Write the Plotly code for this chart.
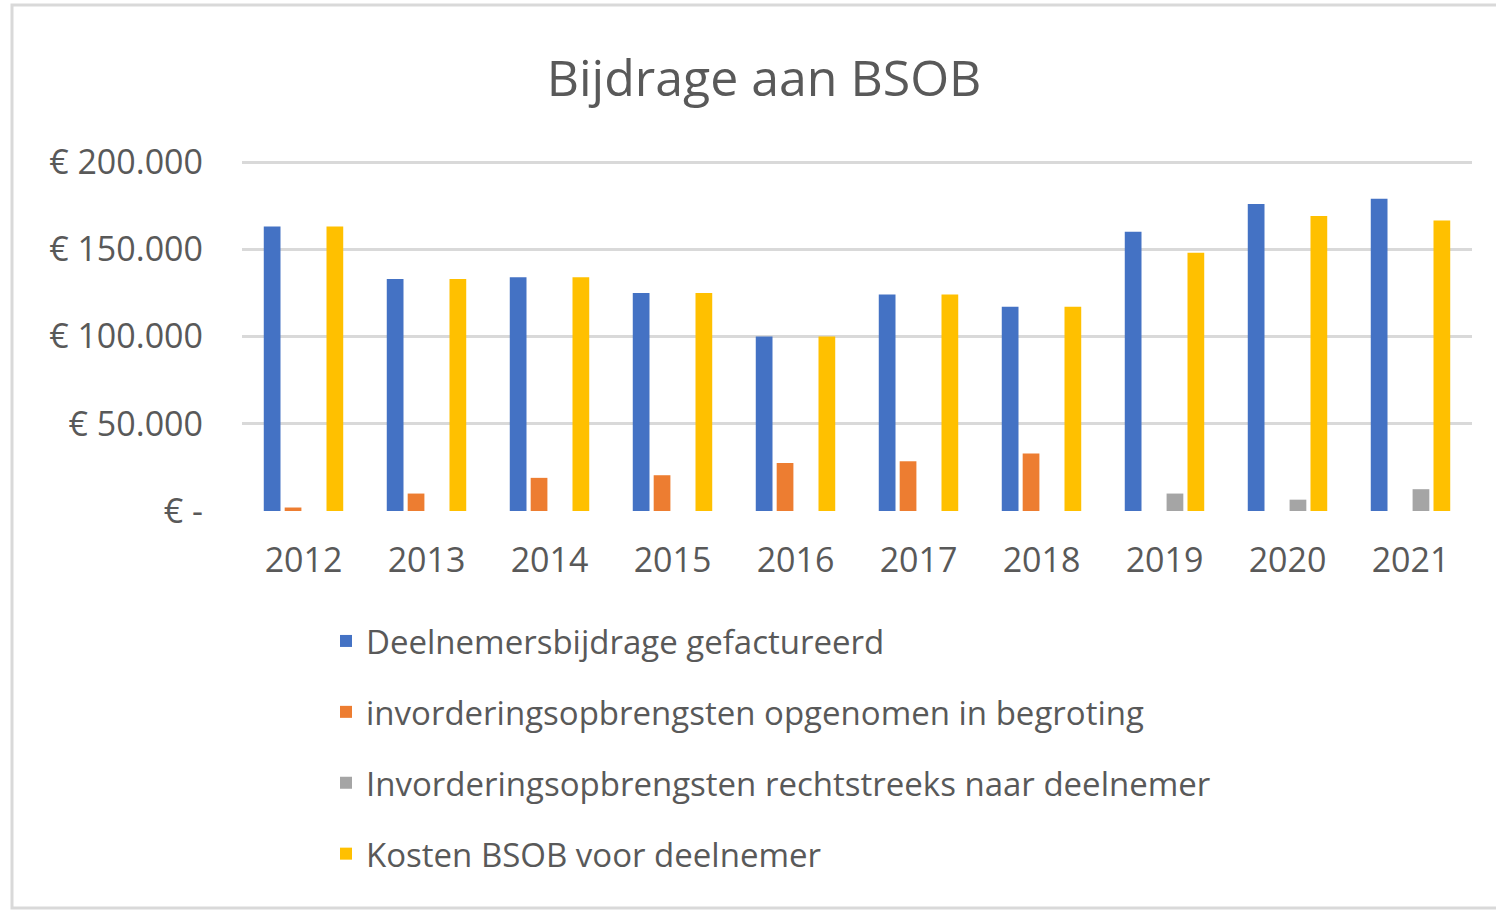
import plotly.graph_objects as go

years = ["2012", "2013", "2014", "2015", "2016", "2017", "2018", "2019", "2020", "2021"]
deelnemersbijdrage = [163000, 133000, 134000, 125000, 100000, 124000, 117000, 160000, 176000, 179000]
invordering_begroting = [2000, 10000, 19000, 20500, 27500, 28500, 33000, 0, 0, 0]
invordering_rechtstreeks = [0, 0, 0, 0, 0, 0, 0, 10000, 6500, 12500]
kosten_bsob = [163000, 133000, 134000, 125000, 100000, 124000, 117000, 148000, 169000, 166500]

series_names = [
    "Deelnemersbijdrage gefactureerd",
    "invorderingsopbrengsten opgenomen in begroting",
    "Invorderingsopbrengsten rechtstreeks naar deelnemer",
    "Kosten BSOB voor deelnemer",
]
series_values = [deelnemersbijdrage, invordering_begroting, invordering_rechtstreeks, kosten_bsob]
colors = ["#4472C4", "#ED7D31", "#A5A5A5", "#FFC000"]

y_tickvals = [0, 50000, 100000, 150000, 200000]
y_ticktext = ["€ -", "€ 50.000", "€ 100.000", "€ 150.000", "€ 200.000"]

FONT = "Open Sans"
TXT = "#595959"

fig = go.Figure()
for i, (name, vals, col) in enumerate(zip(series_names, series_values, colors)):
    fig.add_trace(go.Bar(
        x=years, y=vals, name=name, marker=dict(color=col, line=dict(width=0)),
        legendgroup=f"g{i}",
    ))

W, H = 1496, 910
y0_px, y200_px = 511, 162          # pixel rows of 0 and 200.000
ml, mr = 242, 24
mt = 158
mb = H - y0_px
pw = W - ml - mr
ph = H - mt - mb
y_top = 200000 * ph / (y0_px - y200_px)

def px_to_paper_x(px):
    return (px - ml) / pw

def py_to_paper_y(py):
    return (H - mb - py) / ph

fig.update_layout(
    width=W, height=H,
    margin=dict(l=ml, r=mr, t=mt, b=mb, autoexpand=False),
    paper_bgcolor="white", plot_bgcolor="white",
    barmode="group", bargap=0.32, bargroupgap=0.2,
    font=dict(family=FONT, color=TXT),
    title=dict(text="Bijdrage aan BSOB", x=764 / W, xanchor="center",
               y=1 - 78 / H, yanchor="middle", yref="container",
               font=dict(family=FONT, size=50, color=TXT)),
    xaxis=dict(showgrid=False, showline=False, ticks="", tickfont=dict(size=34, color=TXT),
               ticklabelstandoff=26),
    yaxis=dict(range=[0, y_top], tickvals=y_tickvals, ticktext=y_ticktext,
               showgrid=True, gridcolor="#D9D9D9", gridwidth=2.5, zeroline=False,
               showline=False, ticks="", tickfont=dict(size=34, color=TXT),
               ticklabelstandoff=38),
    legend=dict(orientation="v", x=px_to_paper_x(326), xanchor="left",
                y=py_to_paper_y(613), yanchor="top", tracegroupgap=25,
                font=dict(size=33, color=TXT), bgcolor="rgba(0,0,0,0)"),
    showlegend=True,
)

fig.add_shape(type="rect", xref="paper", yref="paper",
              x0=px_to_paper_x(12), x1=px_to_paper_x(1530),
              y0=py_to_paper_y(908), y1=py_to_paper_y(5),
              line=dict(color="#D9D9D9", width=3), fillcolor="rgba(0,0,0,0)", layer="below")

fig.write_html("out.html", config={"displayModeBar": False},
               post_script="document.body.style.margin='0';")
